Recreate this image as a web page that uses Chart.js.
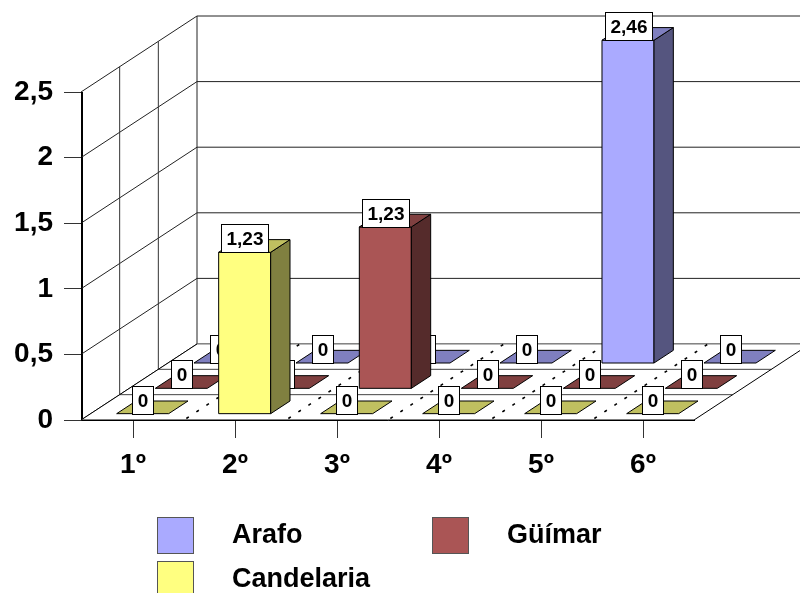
<!DOCTYPE html>
<html>
<head>
<meta charset="utf-8">
<script src="https://cdn.jsdelivr.net/npm/chart.js@4.4.0/dist/chart.umd.min.js"></script>
<style>
  html, body { margin: 0; padding: 0; background: #fff; }
  canvas { display: block; }
</style>
</head>
<body>
<canvas id="chart" width="800" height="593"></canvas>
<script>
const categories = ['1º', '2º', '3º', '4º', '5º', '6º'];
const seriesNames = ['Arafo', 'Güímar', 'Candelaria'];
const arafo = [0, 0, 0, 0, 2.46, 0];
const guimar = [0, 0, 1.23, 0, 0, 0];
const candelaria = [0, 1.23, 0, 0, 0, 0];
const yTicks = [0, 0.5, 1, 1.5, 2, 2.5];

// front / side / top shades for each series
const palette = [
  { front: '#AAAAFF', side: '#55557F', top: '#7F7FBF' },
  { front: '#AA5555', side: '#552B2B', top: '#804040' },
  { front: '#FFFF80', side: '#808040', top: '#C0C060' }
];

const DEPTH_X = 116, DEPTH_Y = 76;   // full depth of the box, in px
const FONT = '"Liberation Sans", Arial, sans-serif';

const fmt = v => String(v).replace('.', ',');

function poly(ctx, pts, fill, stroke) {
  ctx.beginPath();
  pts.forEach((p, i) => i ? ctx.lineTo(p[0], p[1]) : ctx.moveTo(p[0], p[1]));
  ctx.closePath();
  if (fill) { ctx.fillStyle = fill; ctx.fill(); }
  if (stroke) { ctx.strokeStyle = stroke; ctx.lineWidth = 1; ctx.stroke(); }
}

function line(ctx, a, b, color) {
  ctx.beginPath();
  ctx.moveTo(a[0], a[1]);
  ctx.lineTo(b[0], b[1]);
  ctx.strokeStyle = color;
  ctx.lineWidth = 1;
  ctx.stroke();
}

const box3d = {
  id: 'box3d',
  beforeDatasetsDraw(chart) {
    const { ctx, chartArea, scales: { x, y } } = chart;
    const left = chartArea.left - 1, right = chartArea.right;
    const y0 = y.getPixelForValue(0);
    const yMax = y.getPixelForValue(y.max);
    const P = (px, py, f) => [px + f * DEPTH_X, py - f * DEPTH_Y];
    const rows = chart.data.datasets.length;

    ctx.save();

    // back wall and its gridlines
    yTicks.forEach(v => {
      const py = y.getPixelForValue(v);
      line(ctx, P(left, py, 1), P(right + 20, py, 1), '#222');
      line(ctx, P(left, py, 0), P(left, py, 1), '#222');
    });
    line(ctx, P(left, yMax, 1), P(left, y0, 1), '#222');

    // side wall depth dividers
    for (let k = 1; k < rows; k++) {
      line(ctx, P(left, yMax, k / rows), P(left, y0, k / rows), '#333');
    }
    line(ctx, [left + 0.5, yMax], [left + 0.5, y0], '#000');

    // floor
    poly(ctx, [P(left, y0, 0), P(right, y0, 0), P(right, y0, 1), P(left, y0, 1)], '#fff', null);
    for (let k = 1; k < rows; k++) {
      line(ctx, P(left, y0, k / rows), P(right, y0, k / rows), '#444');
    }
    line(ctx, P(left, y0, 1), P(right, y0, 1), '#777');
    line(ctx, P(left, y0, 0), P(left, y0, 1), '#000');
    line(ctx, P(right, y0, 0), P(right, y0, 1), '#000');
    line(ctx, P(left, y0, 0), P(right, y0, 0), '#000');

    // dashed category dividers across the floor
    ctx.setLineDash([3, 9]);
    ctx.lineWidth = 1.6;
    ctx.strokeStyle = '#000';
    for (let k = 1; k < categories.length; k++) {
      const xb = (x.getPixelForValue(k - 1) + x.getPixelForValue(k)) / 2;
      const a = P(xb, y0, 0.02), b = P(xb, y0, 1);
      ctx.beginPath();
      ctx.moveTo(a[0], a[1]);
      ctx.lineTo(b[0], b[1]);
      ctx.stroke();
    }
    ctx.setLineDash([]);

    // bars, back row first
    const catW = x.getPixelForValue(1) - x.getPixelForValue(0);
    const barW = catW * 0.51;
    chart.data.datasets.forEach((ds, i) => {
      const r = rows - 1 - i;
      const f0 = (r + 0.25) / rows, f1 = (r + 0.75) / rows;
      const col = palette[i];
      ds.data.forEach((v, k) => {
        const xc = x.getPixelForValue(k);
        const x0 = xc - barW / 2, x1 = xc + barW / 2;
        const yt = y.getPixelForValue(v);
        if (v > 0) {
          poly(ctx, [P(x0, yt, f0), P(x1, yt, f0), P(x1, y0, f0), P(x0, y0, f0)], col.front, '#000');
          poly(ctx, [P(x1, yt, f0), P(x1, yt, f1), P(x1, y0, f1), P(x1, y0, f0)], col.side, '#000');
        }
        poly(ctx, [P(x0, yt, f0), P(x1, yt, f0), P(x1, yt, f1), P(x0, yt, f1)], col.top, '#000');

        // value label sitting on the bar's front top edge
        const [cx, by] = P(xc, yt, f0);
        const txt = fmt(v);
        ctx.font = 'bold 19px ' + FONT;
        const w = Math.round(ctx.measureText(txt).width + 10);
        const h = 28;
        const bx = Math.round(cx - w / 2) + 0.5, byTop = Math.round(by - h) + 0.5;
        ctx.fillStyle = '#fff';
        ctx.fillRect(bx, byTop, w, h);
        ctx.strokeStyle = '#000';
        ctx.lineWidth = 1;
        ctx.strokeRect(bx, byTop, w, h);
        ctx.fillStyle = '#000';
        ctx.textAlign = 'center';
        ctx.textBaseline = 'middle';
        ctx.fillText(txt, bx + w / 2, byTop + h / 2 + 1);
      });
    });

    ctx.restore();
    return false;
  },
  afterDraw(chart) {
    const { ctx } = chart;
    ctx.save();
    ctx.font = 'bold 27px ' + FONT;
    ctx.textAlign = 'left';
    ctx.textBaseline = 'middle';
    chart.data.datasets.forEach((ds, i) => {
      const bx = 157 + (i % 2) * 275;
      const by = 517 + Math.floor(i / 2) * 44;
      ctx.fillStyle = palette[i].front;
      ctx.fillRect(bx, by, 37, 37);
      ctx.strokeStyle = '#555';
      ctx.lineWidth = 1;
      ctx.strokeRect(bx + 0.5, by + 0.5, 36, 36);
      ctx.fillStyle = '#000';
      ctx.fillText(ds.label, bx + 75, by + 19);
    });
    ctx.restore();
  }
};

new Chart(document.getElementById('chart'), {
  type: 'bar',
  data: {
    labels: categories,
    datasets: [
      { label: seriesNames[0], data: arafo, backgroundColor: palette[0].front },
      { label: seriesNames[1], data: guimar, backgroundColor: palette[1].front },
      { label: seriesNames[2], data: candelaria, backgroundColor: palette[2].front }
    ]
  },
  options: {
    responsive: false,
    animation: false,
    devicePixelRatio: 1,
    layout: { padding: { top: 92, right: 106, left: 0, bottom: 0 } },
    plugins: { legend: { display: false }, tooltip: { enabled: false } },
    scales: {
      x: {
        offset: true,
        ticks: { padding: 10, color: '#000', font: { family: FONT, size: 28, weight: 'bold' } },
        grid: { offset: false, drawOnChartArea: false, tickLength: 18, color: '#333' },
        border: { color: '#000' },
        afterFit(scale) { scale.height = 173; }
      },
      y: {
        min: 0,
        max: 2.5,
        afterBuildTicks(scale) { scale.ticks = yTicks.map(v => ({ value: v })); },
        ticks: { padding: 11, color: '#000', font: { family: FONT, size: 28, weight: 'bold' }, callback: v => fmt(v) },
        grid: { drawOnChartArea: false, tickLength: 18, color: '#333' },
        border: { color: '#000' },
        afterFit(scale) { scale.width = 82; }
      }
    }
  },
  plugins: [box3d]
});
</script>
</body>
</html>
